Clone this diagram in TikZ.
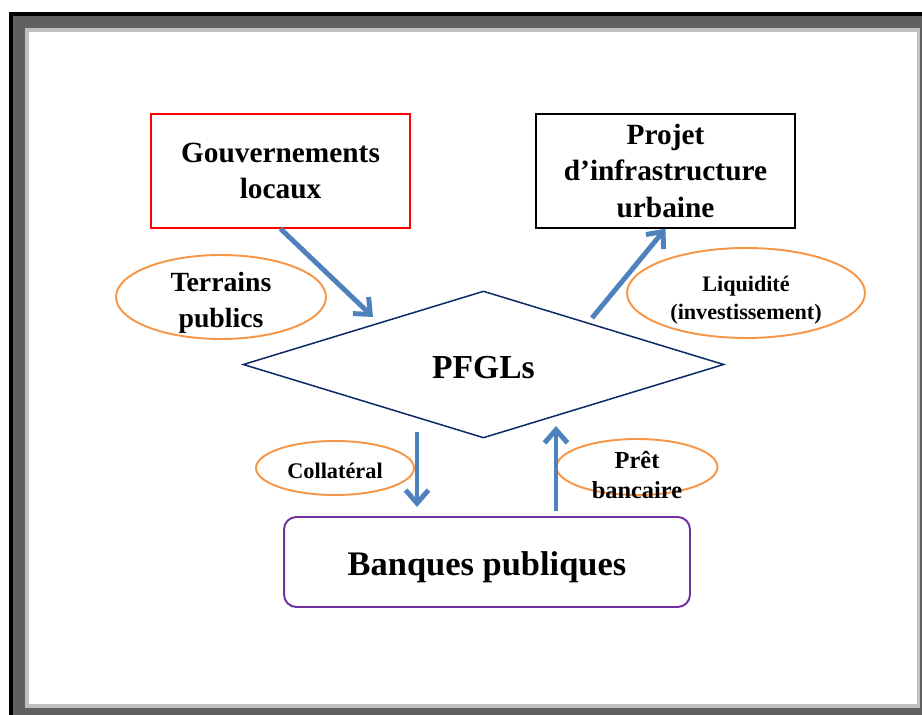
\documentclass[tikz,border=0pt]{standalone}
\usepackage{fontspec}
\setmainfont{Liberation Serif}
\usetikzlibrary{shapes.geometric,arrows.meta}
\definecolor{flowblue}{HTML}{4F81BD}
\definecolor{edgeorange}{HTML}{F79646}
\definecolor{navyline}{HTML}{0B2A66}
\definecolor{bankpurple}{HTML}{7030A0}
\definecolor{framedark}{HTML}{606060}
\definecolor{framelight}{HTML}{C0C0C0}

\begin{document}
\begin{tikzpicture}[x=0.02cm, y=-0.02cm,
    actor/.style={draw, line width=1.1pt, minimum width=5.18cm, minimum height=2.27cm,
      align=center, font=\fontsize{16.7}{20.6}\selectfont\bfseries},
    flux/.style={draw=edgeorange, line width=1.1pt, ellipse, inner sep=0pt},
    tag/.style={align=center, inner sep=0pt},
    fleche/.style={draw=flowblue, line width=2.8pt, -{Straight Barb[length=7.5pt, width=13pt, line width=2.8pt]}}]
      \useasboundingbox (0,0) rectangle (922,715);
      % frame
      \fill [black] (9,12) rectangle (922,715);
      \fill [framedark] (13,16) rectangle (922,715);
      \fill [framelight] (25,28) rectangle (920,708);
      \fill [white] (29,32) rectangle (917,704);
      % boxes
      \node [actor, draw=red] (gouv) at (280.5,171) {Gouvernements\\locaux};
      \node [actor, draw=black] (proj) at (665.5,171) {Projet\\d'infrastructure\\urbaine};
      \node [draw=navyline, line width=0.85pt, diamond, inner sep=0pt, minimum width=9.62cm,
        minimum height=2.94cm, label={[tag, yshift=-1.5pt,
        font=\fontsize{19.1}{22}\selectfont\bfseries]center:PFGLs}] (pfgl) at (483.5,364.5) {};
      \node [draw=bankpurple, line width=1.1pt, rounded corners=7pt, minimum width=8.12cm,
        minimum height=1.8cm, label={[tag, yshift=-3pt,
        font=\fontsize{19.6}{23}\selectfont\bfseries]center:Banques publiques}] (bank) at (487,562) {};
      % ellipses
      \node [flux, minimum width=4.2cm, minimum height=1.68cm, label={[tag, yshift=-3.4pt,
        font=\fontsize{15.8}{20.4}\selectfont\bfseries]center:{Terrains\\publics}}] (terr) at (221,297) {};
      \node [flux, minimum width=4.76cm, minimum height=1.8cm, label={[tag, yshift=-4pt,
        font=\fontsize{12.6}{15.8}\selectfont\bfseries]center:{Liquidité\\(investissement)}}] (liq) at (746,293) {};
      \node [flux, minimum width=3.16cm, minimum height=1.08cm, label={[tag, yshift=-1.7pt,
        font=\fontsize{12.7}{15}\selectfont\bfseries]center:Collatéral}] (coll) at (335,468) {};
      \node [flux, minimum width=3.22cm, minimum height=1.12cm, label={[tag, yshift=-4.5pt,
        font=\fontsize{13.9}{17}\selectfont\bfseries]center:{Prêt\\bancaire}}] (pret) at (637,467) {};
      % arrows
      \coordinate (gouvend) at (373,317);
      \coordinate (projstart) at (592,318);
      \coordinate (collstart) at (417,432);
      \coordinate (collend) at (417,507);
      \coordinate (pretstart) at (556,511);
      \coordinate (pretend) at (556,426);
      \draw [fleche] (gouv.south) -- (gouvend);
      \draw [fleche] (projstart) -- (proj.south);
      \draw [fleche] (collstart) -- (collend);
      \draw [fleche] (pretstart) -- (pretend);
   \end{tikzpicture}
\end{document}
